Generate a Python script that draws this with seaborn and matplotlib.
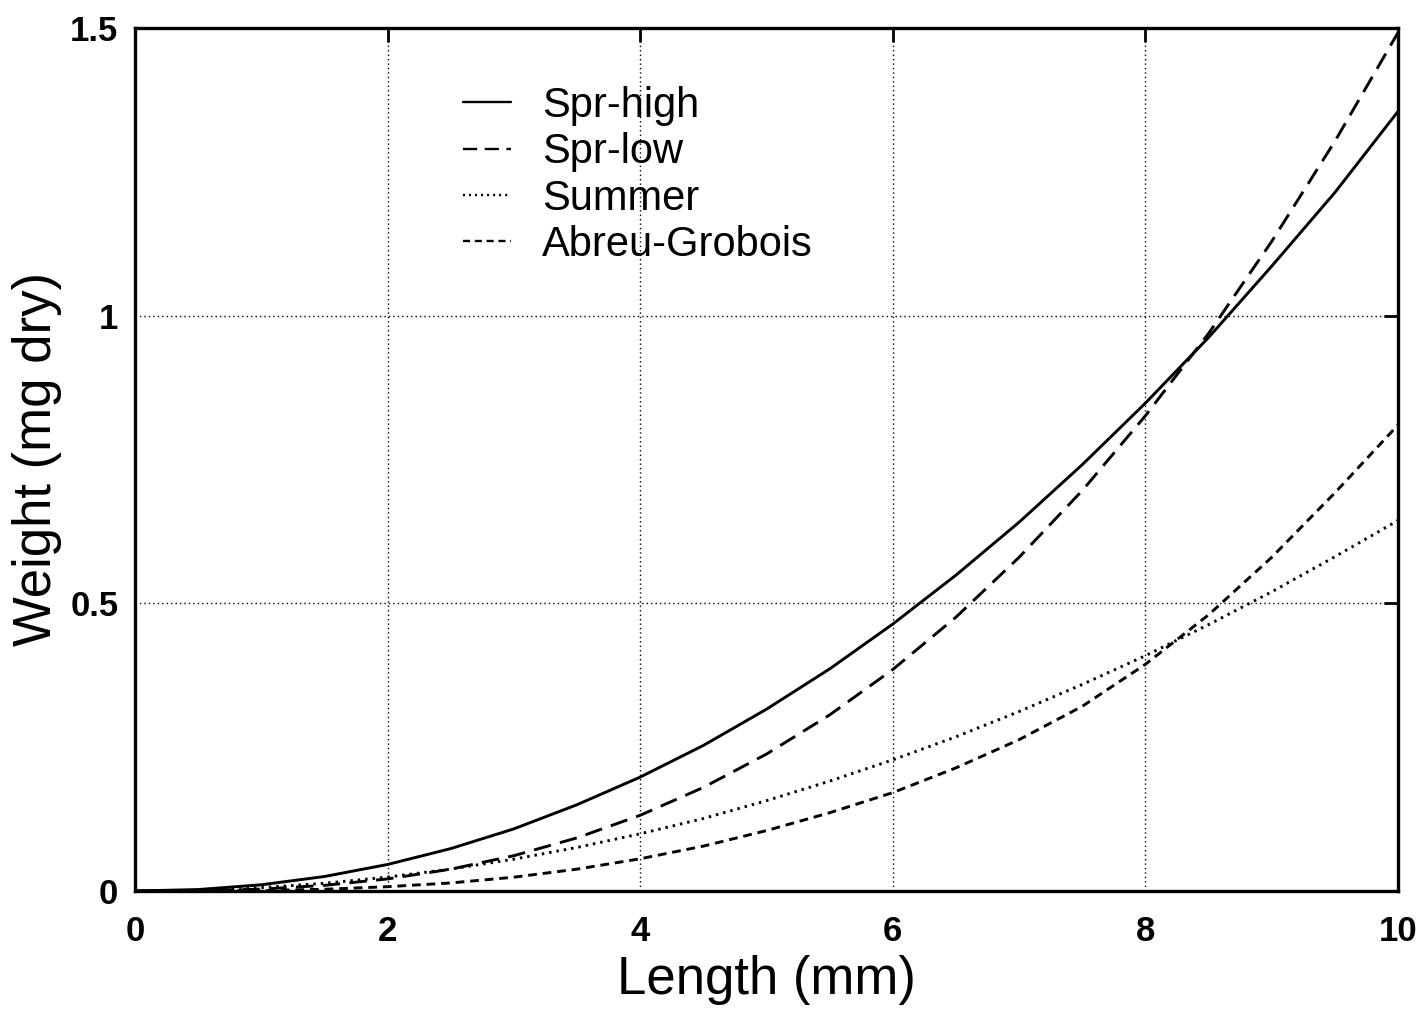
import matplotlib
matplotlib.use("Agg")
import matplotlib.pyplot as plt
import seaborn as sns
import pandas as pd

length_mm = [0, 0.5, 1, 1.5, 2, 2.5, 3, 3.5, 4, 4.5, 5, 5.5, 6, 6.5, 7, 7.5, 8, 8.5, 9, 9.5, 10]
spr_high = [0, 0.0025, 0.0108, 0.0252, 0.0461, 0.0737, 0.108, 0.150, 0.198, 0.253, 0.316,
            0.386, 0.464, 0.549, 0.641, 0.741, 0.848, 0.962, 1.086, 1.214, 1.355]
spr_low = [0, 0.0005, 0.0033, 0.0098, 0.021, 0.0379, 0.0614, 0.0924, 0.1316, 0.180, 0.238,
           0.306, 0.385, 0.476, 0.580, 0.696, 0.826, 0.969, 1.129, 1.303, 1.492]
summer = [0, 0.0014, 0.0059, 0.0134, 0.0242, 0.0381, 0.0553, 0.0757, 0.0994, 0.126, 0.157,
          0.191, 0.228, 0.268, 0.312, 0.359, 0.409, 0.463, 0.520, 0.581, 0.644]
abreu = [0, 0.0001, 0.0008, 0.003, 0.0075, 0.014, 0.024, 0.038, 0.056, 0.078, 0.105,
         0.136, 0.171, 0.214, 0.263, 0.321, 0.394, 0.480, 0.580, 0.692, 0.810]

series_names = ["Spr-high", "Spr-low", "Summer", "Abreu-Grobois"]
x_ticks = [0, 2, 4, 6, 8, 10]
x_tick_labels = ["0", "2", "4", "6", "8", "10"]
y_ticks = [0, 0.5, 1, 1.5]
y_tick_labels = ["0", "0.5", "1", "1.5"]

frames = []
for name, vals in zip(series_names, [spr_high, spr_low, summer, abreu]):
    frames.append(pd.DataFrame({"Length": length_mm, "Weight": vals, "Series": name}))
df = pd.concat(frames, ignore_index=True)

sns.set_style("white")
plt.rcParams["font.family"] = ["Liberation Sans", "DejaVu Sans"]
plt.rcParams["text.color"] = "black"
plt.rcParams["axes.labelcolor"] = "black"

fig = plt.figure(figsize=(14.26, 10.1), dpi=100)
ax = fig.add_axes([135 / 1426, 1 - 891 / 1010, (1398 - 135) / 1426, (891 - 28) / 1010])

dash_map = {
    "Spr-high": "",
    "Spr-low": (6.0, 3.2),
    "Summer": (0.85, 1.7),
    "Abreu-Grobois": (3.0, 2.0),
}
sns.lineplot(data=df, x="Length", y="Weight", style="Series", dashes=dash_map,
             style_order=series_names, color="black", linewidth=2.1, ax=ax,
             legend=True)

ax.set_xlim(0, 10)
ax.set_ylim(0, 1.5)
ax.set_xticks(x_ticks)
ax.set_xticklabels(x_tick_labels, fontsize=25, fontweight="bold")
ax.set_yticks(y_ticks)
ax.set_yticklabels(y_tick_labels, fontsize=25, fontweight="bold")
ax.tick_params(direction="in", top=True, right=True, length=10, width=2.0,
               color="black", labelcolor="black")
ax.tick_params(axis="x", pad=17)
ax.tick_params(axis="y", pad=12)

ax.grid(True, color="black", linestyle=(0, (1, 2.2)), linewidth=1.0)
for sp in ax.spines.values():
    sp.set_color("black")
    sp.set_linewidth(2.4)

ax.set_xlabel("Length (mm)", fontsize=38, labelpad=5, color="black")
ax.set_ylabel("Weight (mg dry)", fontsize=38, labelpad=6, color="black")

handles, labels = ax.get_legend_handles_labels()
leg = ax.legend(handles, labels, loc="upper left",
                bbox_to_anchor=(463 / 1426, 1 - 86 / 1010),
                bbox_transform=fig.transFigure, frameon=False, fontsize=30,
                handlelength=1.15, handletextpad=0.75, labelspacing=0.15,
                borderpad=0, borderaxespad=0)
for line in leg.get_lines():
    line.set_linewidth(1.7)
for t in leg.get_texts():
    t.set_color("black")

fig.savefig("out.png", dpi=100)
